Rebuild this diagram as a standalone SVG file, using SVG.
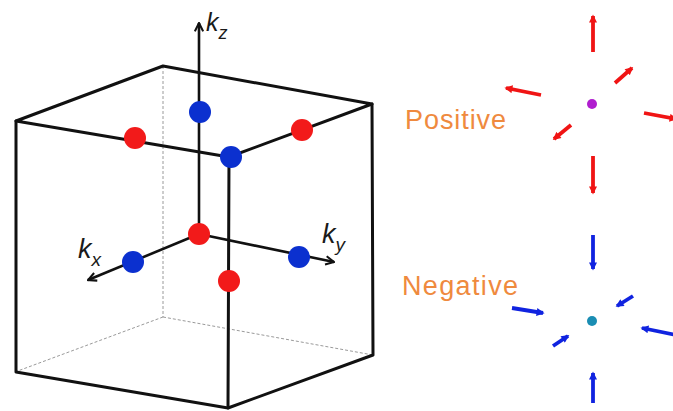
<svg xmlns="http://www.w3.org/2000/svg" width="673" height="411" viewBox="0 0 673 411">
<defs>
<style>
.edge{stroke:#111;stroke-width:3;fill:none;stroke-linecap:round;stroke-linejoin:round}
.hid{stroke:#9a9a9a;stroke-width:1;stroke-dasharray:3 2;fill:none}
.axis{stroke:#111;stroke-width:2.6;fill:none}
.red{fill:#f21a1a}
.blue{fill:#0b30cf}
.lbl{font-family:"Liberation Sans",Arial,sans-serif;font-style:italic;fill:#1a1a1a}
.word{font-family:"Liberation Sans",Arial,sans-serif;font-size:27px;fill:#ef8a3e}
.pa{stroke:#f01414;stroke-width:3.8;fill:none;marker-end:url(#hr)}
.na{stroke:#1023e0;stroke-width:3.8;fill:none;marker-end:url(#hb)}
</style>
<marker id="chev" viewBox="0 0 10 10" refX="9" refY="5" markerWidth="4" markerHeight="4" orient="auto" markerUnits="strokeWidth">
<path d="M1,1 L9,5 L1,9" fill="none" stroke="#111" stroke-width="2"/>
</marker>
<marker id="hr" viewBox="0 0 10 10" refX="8" refY="5" markerWidth="2.3" markerHeight="2.1" orient="auto" markerUnits="strokeWidth">
<path d="M0,0 L10,5 L0,10 Z" fill="#f01414"/>
</marker>
<marker id="hb" viewBox="0 0 10 10" refX="8" refY="5" markerWidth="2.3" markerHeight="2.1" orient="auto" markerUnits="strokeWidth">
<path d="M0,0 L10,5 L0,10 Z" fill="#1023e0"/>
</marker>
</defs>
<rect width="673" height="411" fill="#fff"/>
<g id="cube">
<path class="hid" d="M163,66 L163,317 M163,317 L15,372 M163,317 L373,355"/>
<path class="edge" d="M163,66 L16,121 L229,157 L372,104 Z"/>
<path class="edge" d="M16,121 L16,372 L228,408 L373,355 L372,104"/>
<path class="edge" d="M229,157 L228,408"/>
</g>
<g id="connectors">
<line id="axis-kz" class="axis" x1="199" y1="234" x2="199" y2="23" marker-end="url(#chev)"/>
<line id="axis-kx" class="axis" x1="199" y1="234" x2="88" y2="280" marker-end="url(#chev)"/>
<line id="axis-ky" class="axis" x1="199" y1="234" x2="334" y2="262" marker-end="url(#chev)"/>
</g>
<g id="points">
<circle id="p-origin" class="red" cx="199" cy="234" r="11"/>
<circle id="p-kz" class="blue" cx="200" cy="112" r="11"/>
<circle id="p-left" class="red" cx="135" cy="138" r="11"/>
<circle id="p-right" class="red" cx="302" cy="130" r="11"/>
<circle id="p-front" class="blue" cx="231" cy="157" r="11"/>
<circle id="p-kx" class="blue" cx="133" cy="262" r="11"/>
<circle id="p-ky" class="blue" cx="299" cy="257" r="11"/>
<circle id="p-below" class="red" cx="229" cy="281" r="11"/>
</g>
<g id="labels">
<text class="lbl" x="206" y="31" font-size="25">k<tspan font-size="18" dy="8">z</tspan></text>
<text class="lbl" x="78" y="258" font-size="27">k<tspan font-size="19" dy="8">x</tspan></text>
<text class="lbl" x="322" y="243" font-size="27">k<tspan font-size="19" dy="8">y</tspan></text>
</g>
<g id="positive">
<text class="word" x="405" y="129" textLength="101">Positive</text>
<circle cx="592" cy="104" r="5" fill="#b01ecf"/>
<line class="pa" x1="593" y1="52" x2="593" y2="16"/>
<line class="pa" x1="593" y1="156" x2="593" y2="193"/>
<line class="pa" x1="541" y1="95" x2="506" y2="88"/>
<line class="pa" x1="644" y1="113" x2="676" y2="119"/>
<line class="pa" x1="615" y1="83" x2="632" y2="68"/>
<line class="pa" x1="571" y1="125" x2="554" y2="139"/>
</g>
<g id="negative">
<text class="word" x="402" y="295" textLength="116">Negative</text>
<circle cx="592" cy="321" r="5" fill="#1a8db3"/>
<line class="na" x1="593" y1="235" x2="593" y2="269"/>
<line class="na" x1="593" y1="403" x2="593" y2="373"/>
<line class="na" x1="512" y1="308" x2="543" y2="313"/>
<line class="na" x1="676" y1="335" x2="642" y2="328"/>
<line class="na" x1="633" y1="296" x2="617" y2="306"/>
<line class="na" x1="553" y1="346" x2="568" y2="336"/>
</g>
</svg>
